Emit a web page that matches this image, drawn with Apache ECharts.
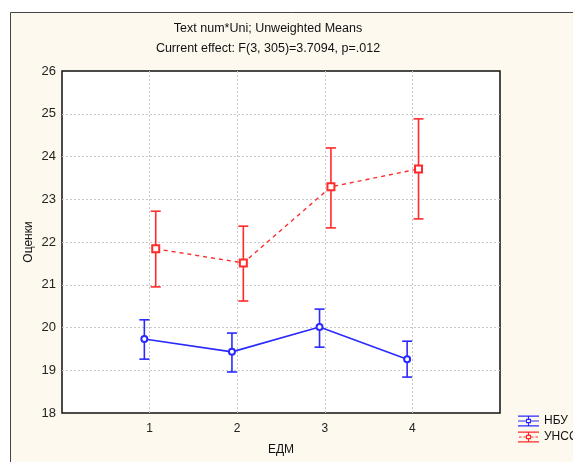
<!DOCTYPE html>
<html><head><meta charset="utf-8">
<script src="https://cdn.jsdelivr.net/npm/echarts@6/dist/echarts.min.js"></script>
<style>html,body{margin:0;padding:0;background:#fff}#c{width:573px;height:462px}</style>
</head><body><div id="c"></div>
<script>
// ---- data ----
const categories = [1, 2, 3, 4];
const xTickLabels = ['1', '2', '3', '4'];
const yTicks = [18, 19, 20, 21, 22, 23, 24, 25, 26];
const nbuMean = [19.73, 19.43, 20.01, 19.26];
const nbuLow  = [19.26, 18.96, 19.54, 18.84];
const nbuHigh = [20.18, 19.87, 20.43, 19.68];
const unssMean = [21.84, 21.51, 23.29, 23.71];
const unssLow  = [20.95, 20.62, 22.33, 22.54];
const unssHigh = [22.72, 22.37, 24.20, 24.88];
const seriesNames = ['НБУ', 'УНСС'];
const titleLines = ['Text num*Uni; Unweighted Means', 'Current effect: F(3, 305)=3.7094, p=.012'];

const blue = '#2a2aff', red = '#ff2a2a';
const offB = -0.06, offR = 0.07;
const FONT = '"Liberation Sans", Arial, sans-serif';
const gridGray = '#c8c8c8';

function errSeries(name, low, high, off, color) {
  return {
    type: 'custom', name: name, z: 3,
    data: categories.map((c, i) => [c + off, low[i], high[i]]),
    encode: { x: 0, y: [1, 2] },
    renderItem: function (params, api) {
      const x = api.value(0);
      const p1 = api.coord([x, api.value(1)]);
      const p2 = api.coord([x, api.value(2)]);
      const hw = 5;
      const st = { stroke: color, lineWidth: 1.6 };
      return { type: 'group', children: [
        { type: 'line', shape: { x1: p1[0], y1: p1[1], x2: p2[0], y2: p2[1] }, style: st },
        { type: 'line', shape: { x1: p1[0] - hw, y1: p1[1], x2: p1[0] + hw, y2: p1[1] }, style: st },
        { type: 'line', shape: { x1: p2[0] - hw, y1: p2[1], x2: p2[0] + hw, y2: p2[1] }, style: st }
      ]};
    }
  };
}

// legend icons (21 x 11 box)
const iconCommon = 'M0 0H21V1.2H0Z M0 9.8H21V11H0Z M9.9 1.2H11.1V3.3H9.9Z M9.9 7.7H11.1V9.8H9.9Z ' +
  'M8 3.3H13V4.4H8Z M8 6.6H13V7.7H8Z M8 4.4H9.1V6.6H8Z M11.9 4.4H13V6.6H11.9Z ';
const iconBlue = 'path://' + iconCommon + 'M0 4.9H8V6.1H0Z M13 4.9H21V6.1H13Z';
const iconRed = 'path://' + iconCommon + 'M1 4.9H3.5V6.1H1Z M5.5 4.9H8V6.1H5.5Z M13 4.9H15.5V6.1H13Z M17.5 4.9H20V6.1H17.5Z';

const ySplitColors = yTicks.map((v, i) => (i === 0 || i === yTicks.length - 1) ? 'rgba(0,0,0,0)' : gridGray);
const xSplitColors = [0, 1, 2, 3, 4, 5].map(v => (categories.indexOf(v) >= 0 ? gridGray : 'rgba(0,0,0,0)'));

const chart = echarts.init(document.getElementById('c'));
chart.setOption({
  animation: false,
  backgroundColor: '#ffffff',
  graphic: [{ type: 'rect', z: -10, shape: { x: 10.5, y: 12.5, width: 700, height: 600 },
    style: { fill: '#fef9ef', stroke: '#444', lineWidth: 1 } }],
  title: {
    text: titleLines.join('\n'), left: 263, top: 14, textAlign: 'center',
    textStyle: { fontFamily: FONT, fontSize: 12.5, fontWeight: 'normal', color: '#111', lineHeight: 20 }
  },
  legend: {
    left: 513, top: 410, orient: 'vertical', itemWidth: 21, itemHeight: 11, itemGap: 4,
    textStyle: { fontFamily: FONT, fontSize: 12, color: '#111' },
    data: [
      { name: seriesNames[0], icon: iconBlue, itemStyle: { color: blue, borderWidth: 0 } },
      { name: seriesNames[1], icon: iconRed, itemStyle: { color: red, borderWidth: 0 } }
    ]
  },
  grid: { left: 62, top: 71, right: 73, bottom: 49, show: true, backgroundColor: '#ffffff',
    borderColor: '#111', borderWidth: 1.5 },
  xAxis: {
    type: 'value', min: 0, max: 5, interval: 1,
    name: 'ЕДМ', nameLocation: 'middle', nameGap: 31, nameMoveOverlap: false,
    nameTextStyle: { fontFamily: FONT, fontSize: 12, color: '#111' },
    axisLine: { show: false }, axisTick: { show: false },
    axisLabel: { fontFamily: FONT, fontSize: 12, color: '#222', margin: 10,
      formatter: v => (categories.indexOf(v) >= 0 ? xTickLabels[categories.indexOf(v)] : '') },
    splitLine: { show: true, lineStyle: { color: xSplitColors, type: [2, 2], width: 1 } }
  },
  yAxis: {
    type: 'value', min: yTicks[0], max: yTicks[yTicks.length - 1], interval: 1,
    name: 'Оценки', nameLocation: 'middle', nameGap: 27, nameMoveOverlap: false,
    nameTextStyle: { fontFamily: FONT, fontSize: 12, color: '#111' },
    axisLine: { show: false }, axisTick: { show: false },
    axisLabel: { fontFamily: FONT, fontSize: 13, color: '#222', margin: 6 },
    splitLine: { show: true, lineStyle: { color: ySplitColors, type: [2, 2], width: 1 } }
  },
  series: [
    { type: 'line', name: seriesNames[0], z: 4,
      data: categories.map((c, i) => [c + offB, nbuMean[i]]),
      lineStyle: { color: blue, width: 1.6 }, itemStyle: { color: blue, borderWidth: 1.4 },
      symbol: 'emptyCircle', symbolSize: 6 },
    errSeries(seriesNames[0], nbuLow, nbuHigh, offB, blue),
    { type: 'line', name: seriesNames[1], z: 4,
      data: categories.map((c, i) => [c + offR, unssMean[i]]),
      lineStyle: { color: red, width: 1.4, type: [4, 4] }, itemStyle: { color: red, borderWidth: 1.4 },
      symbol: 'emptyRect', symbolSize: 7 },
    errSeries(seriesNames[1], unssLow, unssHigh, offR, red)
  ]
});
</script></body></html>
